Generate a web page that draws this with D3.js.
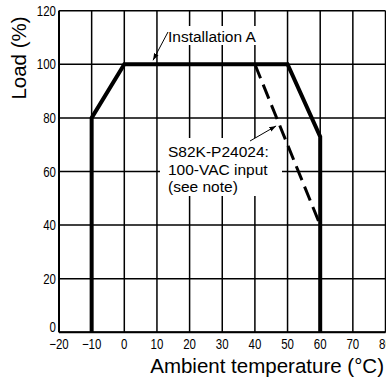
<!DOCTYPE html>
<html lang="en">
<head>
<meta charset="UTF-8">
<title>Derating curve</title>
<script src="https://d3js.org/d3.v7.min.js"></script>
<style>
  body { margin: 0; background: #fff; }
  svg { display: block; }
  .tick-lbl { font-family: "Liberation Sans", Arial, sans-serif; font-size: 14px; fill: #000; }
  .ttl { font-family: "Liberation Sans", Arial, sans-serif; font-size: 20.5px; fill: #000; }
  .note { font-family: "Liberation Sans", Arial, sans-serif; font-size: 15.5px; fill: #000; }
</style>
</head>
<body>
<svg id="chart"></svg>
<script>
// data
const xTicks = [-20, -10, 0, 10, 20, 30, 40, 50, 60, 70, 80];
const yTicks = [0, 20, 40, 60, 80, 100, 120];
const installA = [[-10, 0], [-10, 80], [0, 100], [50, 100], [60, 73], [60, 0]];
const vac100 = [[40, 100], [60, 40]];
const noteLines = ["S82K-P24024:", "100-VAC input", "(see note)"];

const width = 386, height = 380;
const svg = d3.select("#chart").attr("width", width).attr("height", height);

const x = d3.scaleLinear().domain([-20, 80]).range([59, 385.5]);
const y = d3.scaleLinear().domain([0, 120]).range([332.3, 10.7]);

// grid
svg.append("g").selectAll("line").data(xTicks).enter().append("line")
    .attr("x1", d => x(d)).attr("x2", d => x(d))
    .attr("y1", y(0)).attr("y2", y(120))
    .attr("stroke", "#000").attr("stroke-width", 1.5);
svg.append("g").selectAll("line").data(yTicks).enter().append("line")
    .attr("x1", x(-20)).attr("x2", x(80))
    .attr("y1", d => y(d)).attr("y2", d => y(d))
    .attr("stroke", "#000").attr("stroke-width", 1.5);
// axis borders a little heavier
svg.append("line").attr("x1", x(-20)).attr("x2", x(-20)).attr("y1", y(0)).attr("y2", y(120))
    .attr("stroke", "#000").attr("stroke-width", 2);
svg.append("line").attr("x1", x(-20)).attr("x2", x(80)).attr("y1", y(0)).attr("y2", y(0))
    .attr("stroke", "#000").attr("stroke-width", 2);

// tick labels (narrowed like the original print)
svg.append("g").selectAll("text").data(yTicks).enter().append("text")
    .attr("class", "tick-lbl")
    .attr("transform", d => `translate(${x(-20) - 3},${y(d)}) scale(0.82,1)`)
    .attr("dy", d => d === 0 ? "-0.05em" : "0.36em")
    .attr("text-anchor", "end")
    .text(d => d);
svg.append("g").selectAll("text").data(xTicks).enter().append("text")
    .attr("class", "tick-lbl")
    .attr("transform", d => `translate(${x(d)},348.5) scale(0.82,1)`)
    .attr("text-anchor", "middle")
    .text(d => d < 0 ? "\u2212" + Math.abs(d) : d);

// axis titles
svg.append("text").attr("class", "ttl")
    .attr("transform", "translate(26,58) rotate(-90)")
    .attr("text-anchor", "middle")
    .text("Load  (%)");
svg.append("text").attr("class", "ttl")
    .attr("x", 384).attr("y", 373)
    .attr("text-anchor", "end")
    .text("Ambient temperature (\u00b0C)");

const line = d3.line().x(d => x(d[0])).y(d => y(d[1]));

// curves
svg.append("path").datum(vac100).attr("d", line)
    .attr("fill", "none").attr("stroke", "#000").attr("stroke-width", 3)
    .attr("stroke-dasharray", "15,7");
svg.append("path").datum(installA).attr("d", line)
    .attr("fill", "none").attr("stroke", "#000").attr("stroke-width", 4)
    .attr("stroke-linejoin", "miter");

// annotations
svg.append("defs").append("marker")
    .attr("id", "arr").attr("viewBox", "0 0 10 10").attr("refX", 10).attr("refY", 5)
    .attr("markerWidth", 7).attr("markerHeight", 7).attr("orient", "auto")
    .append("path").attr("d", "M0,1.5 L10,5 L0,8.5 Z").attr("fill", "#000");

svg.append("rect").attr("x", 166).attr("y", 26).attr("width", 94).attr("height", 19).attr("fill", "#fff");
svg.append("text").attr("class", "note").attr("x", 168).attr("y", 42).text("Installation A");
svg.append("line").attr("x1", 168).attr("y1", 32).attr("x2", x(8.8)).attr("y2", y(101.5))
    .attr("stroke", "#000").attr("stroke-width", 1).attr("marker-end", "url(#arr)");

svg.append("rect").attr("x", 160).attr("y", 138).attr("width", 122).attr("height", 58).attr("fill", "#fff");
svg.append("g").selectAll("text").data(noteLines).enter().append("text")
    .attr("class", "note")
    .attr("x", 168).attr("y", (d, i) => 157 + i * 17.5)
    .text(d => d);
svg.append("line").attr("x1", 250).attr("y1", 141).attr("x2", x(46.5)).attr("y2", y(77))
    .attr("stroke", "#000").attr("stroke-width", 1).attr("marker-end", "url(#arr)");
</script>
</body>
</html>
